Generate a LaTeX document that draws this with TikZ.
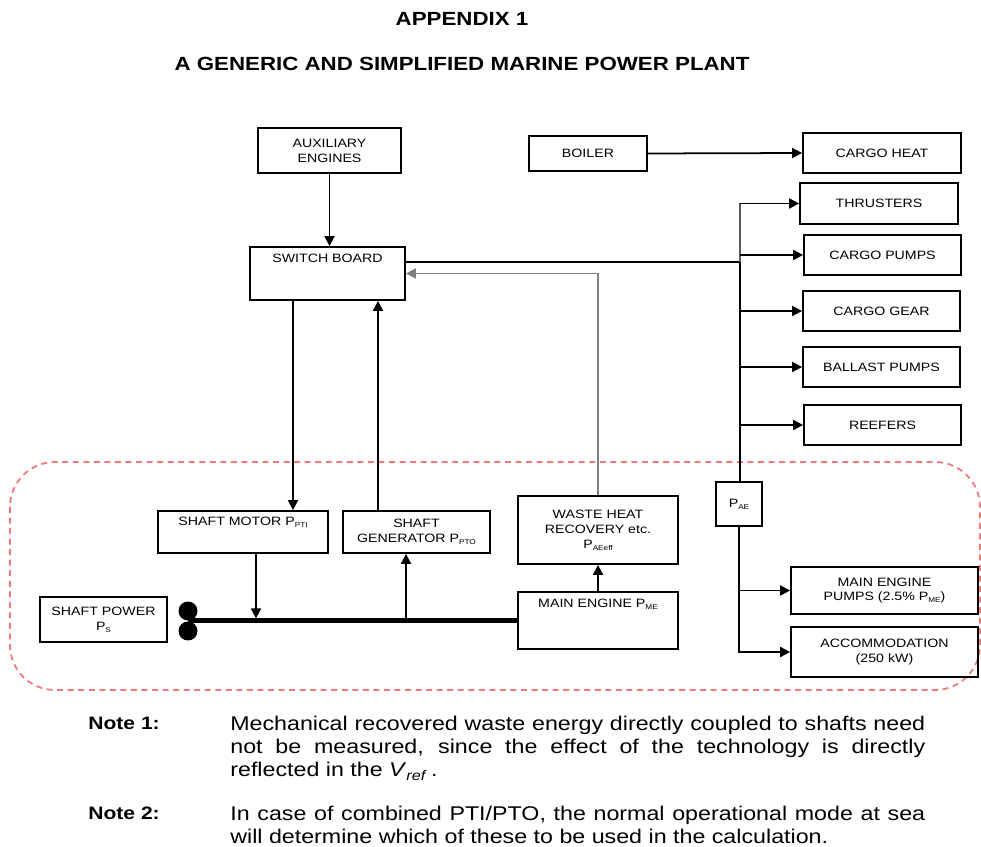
\documentclass[tikz,border=0pt]{standalone}
\usepackage{fontspec}
\setmainfont[FakeStretch=1.17]{Liberation Sans}
\usetikzlibrary{arrows.meta}
\definecolor{zone}{HTML}{F07878}
\newcommand{\sbs}[1]{\raisebox{-0.3ex}{\fontsize{4}{5}\selectfont #1}}
\hyphenpenalty=10000
\exhyphenpenalty=10000
\begin{document}
\begin{tikzpicture}[x=0.02cm, y=-0.02cm,
    blk/.style={draw, line width=1pt, inner sep=1pt, align=center, font=\fontsize{6.9}{8.5}\selectfont},
    toplbl/.style={anchor=north, inner sep=0pt, align=center, font=\fontsize{6.9}{8.5}\selectfont},
    wire/.style={line width=1pt},
    arr/.style={wire, -{Triangle[length=2mm, width=2mm]}},
    notelbl/.style={anchor=north west, inner sep=0pt, font=\bfseries\fontsize{10.25}{12}\selectfont},
    notetxt/.style={anchor=north west, inner sep=0pt, text width=13.9cm, align=justify, font=\fontsize{11.3}{13.05}\selectfont}]
    \useasboundingbox (0,0) rectangle (981,847);
    % 标题
    \node[font=\bfseries\fontsize{10.85}{13}\selectfont] (tit1) at (462,19) {APPENDIX 1};
    \node[font=\bfseries\fontsize{10.85}{13}\selectfont] (tit2) at (462,64) {A GENERIC AND SIMPLIFIED MARINE POWER PLANT};
    % 虚线区域
    \draw[zone, line width=1pt, dash pattern=on 3.4pt off 2.6pt, rounded corners=0.9cm] (10,462) rectangle (980,690);
    % 上部方框
    \node[blk, minimum width=2.86cm, minimum height=0.9cm] (aux) at (329.5,150.5) {AUXILIARY\\ENGINES};
    \node[blk, minimum width=2.36cm, minimum height=0.7cm] (boiler) at (588,153.5) {BOILER};
    \node[blk, minimum width=3.1cm, minimum height=1.06cm] (sb) at (327.5,273.5) {};
    \node[toplbl] (sbt) at ([yshift=-0.16cm]sb.north) {SWITCH BOARD};
    % 右侧用户
    \node[blk, minimum width=3.16cm, minimum height=0.8cm] (cheat) at (882,153) {CARGO HEAT};
    \node[blk, minimum width=3.16cm, minimum height=0.82cm] (thr) at (879,203.5) {THRUSTERS};
    \node[blk, minimum width=3.14cm, minimum height=0.8cm] (cpump) at (882.5,255) {CARGO PUMPS};
    \node[blk, minimum width=3.14cm, minimum height=0.8cm] (cgear) at (881.5,311) {CARGO GEAR};
    \node[blk, minimum width=3.14cm, minimum height=0.8cm] (ballast) at (881.5,367) {BALLAST PUMPS};
    \node[blk, minimum width=3.14cm, minimum height=0.8cm] (reefer) at (882.5,425) {REEFERS};
    % 轴系
    \node[blk, minimum width=3.4cm, minimum height=0.84cm] (motor) at (243,532) {};
    \node[toplbl] (motort) at ([yshift=-0.14cm]motor.north) {SHAFT MOTOR P\sbs{PTI}};
    \node[blk, minimum width=2.94cm, minimum height=0.84cm] (gen) at (416.5,532) {SHAFT\\GENERATOR P\sbs{PTO}};
    \node[blk, minimum width=3.2cm, minimum height=1.36cm] (whr) at (598,530) {WASTE HEAT\\RECOVERY etc.\\P\sbs{AEeff}};
    \node[blk, minimum width=3.2cm, minimum height=1.14cm] (me) at (598,620.5) {};
    \node[toplbl] (met) at ([yshift=-0.16cm]me.north) {MAIN ENGINE P\sbs{ME}};
    \node[blk, minimum width=2.54cm, minimum height=0.9cm] (sp) at (103.5,619.5) {SHAFT POWER\\P\sbs{S}};
    \node[blk, minimum width=0.92cm, minimum height=0.88cm] (pae) at (739,504) {P\sbs{AE}};
    \node[blk, minimum width=3.74cm, minimum height=0.94cm] (mep) at (884.5,590.5) {MAIN ENGINE\\PUMPS (2.5\% P\sbs{ME})};
    \node[blk, minimum width=3.74cm, minimum height=1cm] (acc) at (884.5,652) {ACCOMMODATION\\(250 kW)};
    % 螺旋桨
    \node[circle, fill, minimum size=0.38cm, inner sep=0pt] (pu) at (188,611) {};
    \node[circle, fill, minimum size=0.38cm, inner sep=0pt] (pd) at (188,631) {};
    \coordinate (prop) at (188,620.5);
    \draw[line width=2.4pt] (prop) -- (me.west);
    % 连线
    \draw[arr] (aux.south) -- (aux.south |- sb.north);
    \draw[arr] (boiler.east) -- (cheat.west);
    \coordinate (bus) at (740,204);
    \coordinate (sbbus) at ([yshift=0.23cm]sb.east -| bus);
    \draw[wire] ([yshift=0.23cm]sb.east) -- (sbbus);
    \draw[wire, black!65] (thr.west -| bus) -- (sbbus);
    \draw[wire] (sbbus) -- (bus |- pae.north);
    \foreach \n in {thr,cpump,cgear,ballast,reefer}
        \draw[arr] (\n.west -| bus) -- (\n.west);
    \draw[arr, gray] (whr.north) |- (sb.east);
    \draw[arr] ([xshift=-0.69cm]sb.south) -- ([xshift=-0.69cm]sb.south |- motor.north);
    \draw[arr] ([xshift=-0.77cm]gen.north) -- ([xshift=-0.77cm]gen.north |- sb.south);
    \draw[arr, shorten >=1.2pt] ([xshift=0.26cm]motor.south) -- ([xshift=0.26cm]motor.south |- prop);
    \draw[arr] ([xshift=-0.21cm]gen.south |- prop) -- ([xshift=-0.21cm]gen.south);
    \draw[arr] (me.north) -- (whr.south);
    \draw[arr] (pae.south) |- (acc.west);
    \draw[arr] (pae.south |- mep.west) -- (mep.west);
    % 注释
    \node[notelbl] (n1l) at (88,717) {Note 1:};
    \node[notetxt] (n1) at (230,716) {Mechanical recovered waste energy directly coupled to shafts need not be measured, since the effect of the technology is directly reflected in the \textit{V}\textsubscript{\textit{ref}}\,.};
    \node[notelbl] (n2l) at (88,807) {Note 2:};
    \node[notetxt] (n2) at (230,806) {In case of combined PTI/PTO, the normal operational mode at sea will determine which of these to be used in the calculation.};
\end{tikzpicture}
\end{document}
